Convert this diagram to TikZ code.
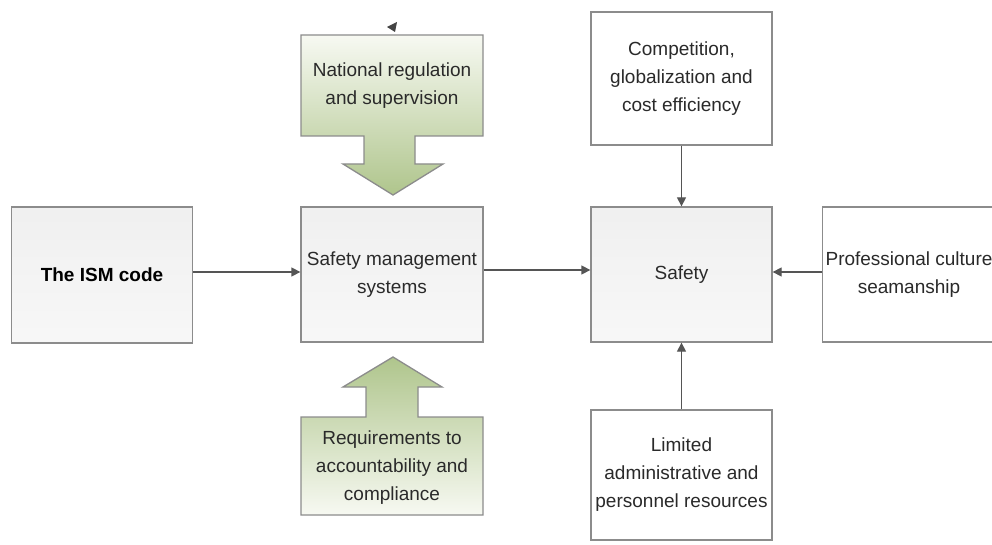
\documentclass[tikz,border=0pt]{standalone}
\usepackage{fontspec}
\setmainfont{Liberation Sans}
\usetikzlibrary{arrows.meta}
\definecolor{boxline}{HTML}{8C8C8C}
\definecolor{txt}{HTML}{2A2A2A}
\definecolor{lineclr}{HTML}{555555}
\definecolor{grn}{HTML}{AFC58C}
\definecolor{grnlight}{HTML}{F7F9F2}
\tikzset{
  basebox/.style={draw=boxline, line width=1.3pt, minimum width=181pt, align=center, text=txt, font=\fontsize{19}{28}\selectfont, inner sep=2pt},
  graybox/.style={basebox, top color=gray!12, bottom color=gray!6},
  whitebox/.style={basebox, fill=white},
  conn/.style={draw=lineclr, line width=1.3pt, -{Triangle[length=9pt,width=9pt]}},
  callout/.style={draw=boxline, line width=1.3pt},
  calltext/.style={align=center, text=txt, font=\fontsize{19}{28}\selectfont},
}
\begin{document}
\begin{tikzpicture}[x=1pt,y=1pt]
\path[use as bounding box] (0,0) rectangle (992,544);
\clip (0,0) rectangle (992,544);
\fill[white] (0,0) rectangle (992,544);

% boxes
\node[graybox, minimum height=136pt, text=black, font=\fontsize{19}{28}\selectfont\bfseries] (ism) at (102,269) {The ISM code};
\node[graybox, minimum height=135pt, minimum width=182pt] (sms) at (392,269.5) {Safety management\\systems};
\node[graybox, minimum height=135pt] (safety) at (681.5,269.5) {Safety};
\node[whitebox, minimum height=133pt] (comp) at (681.5,465.5) {Competition,\\globalization and\\cost efficiency};
\node[whitebox, minimum height=130pt] (lim) at (681.5,69) {Limited\\administrative and\\personnel resources};
\node[whitebox, minimum height=135pt, minimum width=190pt, anchor=west] (prof) at (822,269.5) {};
\node[calltext] (proftext) at (909,269.5) {Professional culture\\seamanship};

% green callouts
\path[callout, top color=grnlight, bottom color=grn]
  (301,509) -- (483,509) -- (483,408) -- (415,408) -- (415,380) -- (443,380)
  -- (393,349) -- (343,380) -- (364,380) -- (364,408) -- (301,408) -- cycle;
\node[calltext] (nat) at (392,458) {National regulation\\and supervision};

\path[callout, top color=grn, bottom color=grnlight]
  (301,29) -- (483,29) -- (483,127) -- (418,127) -- (418,157) -- (442,157)
  -- (393,187) -- (343,157) -- (366,157) -- (366,127) -- (301,127) -- cycle;
\node[calltext] (req) at (392,76) {Requirements to\\accountability and\\compliance};

% small stray arrowhead
\fill[lineclr!80!black] (387,517) -- (397,522) -- (395,512) -- cycle;

% connectors
\draw[conn] (ism.east |- 0,272) -- (sms.west |- 0,272);
\draw[conn] (sms.east |- 0,274) -- (safety.west |- 0,274);
\draw[conn] (prof.west |- 0,272) -- (safety.east |- 0,272);
\draw[conn] (comp.south) -- (safety.north);
\draw[conn] (lim.north) -- (safety.south);
\end{tikzpicture}
\end{document}
